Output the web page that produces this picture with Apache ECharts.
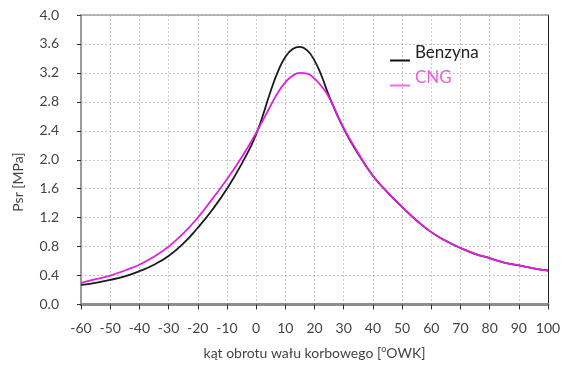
<!DOCTYPE html>
<html>
<head>
<meta charset="utf-8">
<script src="https://cdn.jsdelivr.net/npm/echarts@6/dist/echarts.min.js"></script>
<style>
html,body{margin:0;padding:0;background:#fff;}
#chart{width:570px;height:365px;}
</style>
</head>
<body>
<div id="chart"></div>
<script>
const angles =  [-60,-55,-50,-45,-40,-35,-30,-25,-20,-15,-10,-5,0,5,7.5,10,12.5,15,17.5,20,22.5,25,30,35,40,45,50,55,60,65,70,75,80,85,90,95,100];
const benzyna = [0.27,0.30,0.34,0.39,0.46,0.55,0.67,0.84,1.06,1.31,1.60,1.94,2.35,2.95,3.22,3.42,3.53,3.56,3.51,3.37,3.15,2.88,2.43,2.08,1.78,1.55,1.35,1.16,1.00,0.88,0.78,0.70,0.64,0.58,0.54,0.50,0.47];
const cng =     [0.30,0.35,0.40,0.47,0.55,0.66,0.80,0.98,1.20,1.46,1.73,2.03,2.37,2.75,2.93,3.07,3.16,3.20,3.19,3.12,3.01,2.86,2.44,2.09,1.78,1.55,1.35,1.16,1.00,0.88,0.78,0.70,0.64,0.58,0.54,0.50,0.47];
const yTicks = [0,0.4,0.8,1.2,1.6,2.0,2.4,2.8,3.2,3.6,4.0];
const seriesNames = ['Benzyna','CNG'];
const xTitle = 'kąt obrotu wału korbowego [{sup|o}OWK]';
const yTitle = 'Psr [MPa]';

const FONT = 'Lato';
const chart = echarts.init(document.getElementById('chart'));
const pair = (xs, ys) => xs.map((x,i)=>[x, ys[i]]);
const lineIcon = c => 'image://data:image/svg+xml;charset=utf-8,' + encodeURIComponent(
  '<svg xmlns="http://www.w3.org/2000/svg" width="20" height="18"><rect x="0" y="15.5" width="20" height="2" fill="' + c + '"/></svg>');
const gridLine = {show:true, lineStyle:{color:'#c8c8c8', type:[2,2], width:1}};
chart.setOption({
  backgroundColor:'#fff',
  animation:false,
  grid:{left:81, right:22, top:15, bottom:55, containLabel:false},
  xAxis:[{
    type:'value', min:-60, max:100, interval:10,
    axisLine:{show:true, onZero:false, lineStyle:{color:'#8c8c8c', width:3}},
    axisTick:{show:true, length:5, lineStyle:{color:'#333', width:1}},
    axisLabel:{color:'#444', fontFamily:FONT, fontSize:14, margin:17},
    splitLine:gridLine,
    name:xTitle, nameLocation:'middle', nameGap:40,
    nameTextStyle:{color:'#444', fontFamily:FONT, fontSize:14,
      rich:{sup:{fontSize:9, color:'#444', fontFamily:FONT, verticalAlign:'top', padding:[0,0,8,0]}}}
  },{
    type:'value', position:'top', min:-60, max:100,
    axisLine:{show:true, onZero:false, lineStyle:{color:'#a0a0a0', width:1.5}},
    axisTick:{show:false}, axisLabel:{show:false}, splitLine:{show:false}
  }],
  yAxis:[{
    type:'value', min:0, max:4, interval:0.4,
    axisLine:{show:true, onZero:false, lineStyle:{color:'#9a9a9a', width:2}},
    axisTick:{show:true, length:4, lineStyle:{color:'#333', width:1}},
    axisLabel:{color:'#444', fontFamily:FONT, fontSize:14, margin:22,
      formatter:v=>{const t=yTicks.find(k=>Math.abs(k-v)<1e-6); return (t!==undefined?t:v).toFixed(1);}},
    splitLine:gridLine
  },{
    type:'value', position:'right', min:0, max:4,
    axisLine:{show:true, onZero:false, lineStyle:{color:'#222', width:1}},
    axisTick:{show:false}, axisLabel:{show:false}, splitLine:{show:false}
  }],
  legend:[{
    data:[{name:seriesNames[0], icon:lineIcon('#111111'), textStyle:{color:'#222'}}],
    left:385, top:39, itemWidth:20, itemHeight:18, itemGap:0,
    textStyle:{fontFamily:FONT, fontSize:17}
  },{
    data:[{name:seriesNames[1], icon:lineIcon('#ee70dd'), textStyle:{color:'#ea5fd6'}}],
    left:385, top:64, itemWidth:20, itemHeight:18, itemGap:0,
    textStyle:{fontFamily:FONT, fontSize:17}
  }],
  graphic:[{
    type:'text', x:18, y:182, rotation:Math.PI/2,
    style:{text:yTitle, fill:'#444', font:'14px '+FONT, textAlign:'center', textVerticalAlign:'middle'}
  }],
  series:[{
    name:seriesNames[0], type:'line', data:pair(angles, benzyna), smooth:0.5,
    showSymbol:false, lineStyle:{color:'#1a1a1a', width:1.8}, itemStyle:{color:'#1a1a1a'}, z:3
  },{
    name:seriesNames[1], type:'line', data:pair(angles, cng), smooth:0.5,
    showSymbol:false, lineStyle:{color:'#e020e0', width:1.8}, itemStyle:{color:'#e020e0'}, z:4
  }]
});
</script>
</body>
</html>
